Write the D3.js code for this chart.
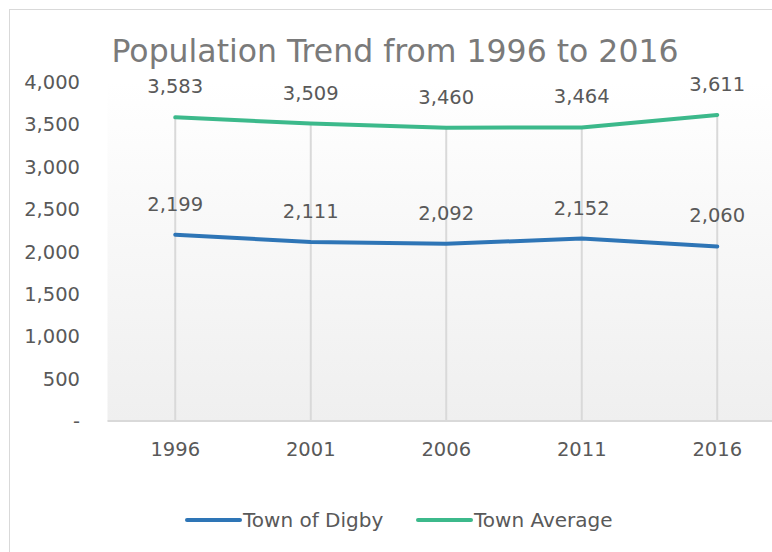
<!DOCTYPE html>
<html>
<head>
<meta charset="utf-8">
<script src="https://cdn.jsdelivr.net/npm/d3@7"></script>
<style>
  body { margin: 0; background: #fff; }
  svg { display: block; font-family: "DejaVu Sans", "Noto Sans", sans-serif; }
</style>
</head>
<body>
<svg id="chart"></svg>
<script>
const years = ['1996', '2001', '2006', '2011', '2016'];
const digby = [2199, 2111, 2092, 2152, 2060];
const townAverage = [3583, 3509, 3460, 3464, 3611];
const yTicks = [0, 500, 1000, 1500, 2000, 2500, 3000, 3500, 4000];

const width = 772;
const height = 552;

const svg = d3.select('#chart')
  .attr('width', width)
  .attr('height', height);

// outer frame
svg.append('rect')
  .attr('x', 9.5).attr('y', 9.5)
  .attr('width', 800).attr('height', 600)
  .attr('fill', 'none')
  .attr('stroke', '#d9d9d9');

const x = d3.scaleBand().domain(years).range([107.5, 785]);
const y = d3.scaleLinear().domain([0, 4000]).range([421, 82]);

// plot background gradient
const grad = svg.append('defs').append('linearGradient')
  .attr('id', 'bg').attr('x1', 0).attr('y1', 0).attr('x2', 0).attr('y2', 1);
grad.append('stop').attr('offset', '0%').attr('stop-color', '#ffffff');
grad.append('stop').attr('offset', '100%').attr('stop-color', '#efefef');

svg.append('rect')
  .attr('x', x.range()[0]).attr('y', y(4000))
  .attr('width', x.range()[1] - x.range()[0])
  .attr('height', y(0) - y(4000))
  .attr('fill', 'url(#bg)');

// title
svg.append('text')
  .attr('x', 395).attr('y', 62)
  .attr('text-anchor', 'middle')
  .attr('font-size', 31.5)
  .attr('fill', '#7a7a7a')
  .text('Population Trend from 1996 to 2016');

// y axis labels
svg.append('g').selectAll('text')
  .data(yTicks)
  .join('text')
  .attr('x', 80)
  .attr('y', d => y(d) + 7)
  .attr('text-anchor', 'end')
  .attr('font-size', 19.5)
  .attr('fill', '#595959')
  .text(d => d === 0 ? '-' : d3.format(',')(d));

// drop lines
svg.append('g').selectAll('line')
  .data(years)
  .join('line')
  .attr('x1', d => x(d) + x.bandwidth() / 2)
  .attr('x2', d => x(d) + x.bandwidth() / 2)
  .attr('y1', (d, i) => y(Math.max(digby[i], townAverage[i])))
  .attr('y2', y(0))
  .attr('stroke', '#d9d9d9')
  .attr('stroke-width', 2);

// x axis line
svg.append('line')
  .attr('x1', x.range()[0]).attr('x2', x.range()[1])
  .attr('y1', y(0)).attr('y2', y(0))
  .attr('stroke', '#d9d9d9')
  .attr('stroke-width', 2);

// x labels
svg.append('g').selectAll('text')
  .data(years)
  .join('text')
  .attr('x', d => x(d) + x.bandwidth() / 2)
  .attr('y', 456)
  .attr('text-anchor', 'middle')
  .attr('font-size', 19.5)
  .attr('fill', '#595959')
  .text(d => d);

const series = [
  { name: 'Town of Digby', values: digby, color: '#2e75b6' },
  { name: 'Town Average', values: townAverage, color: '#3cb98b' }
];

const line = d3.line()
  .x((d, i) => x(years[i]) + x.bandwidth() / 2)
  .y(d => y(d));

series.forEach(s => {
  svg.append('path')
    .datum(s.values)
    .attr('d', line)
    .attr('fill', 'none')
    .attr('stroke', s.color)
    .attr('stroke-width', 4)
    .attr('stroke-linecap', 'round');

  svg.append('g').selectAll('text')
    .data(s.values)
    .join('text')
    .attr('x', (d, i) => x(years[i]) + x.bandwidth() / 2)
    .attr('y', d => y(d) - 24)
    .attr('text-anchor', 'middle')
    .attr('font-size', 19.5)
    .attr('fill', '#595959')
    .text(d => d3.format(',')(d));
});

// legend
const legend = svg.append('g');
const legendX = [187, 418];
series.forEach((s, i) => {
  legend.append('line')
    .attr('x1', legendX[i]).attr('x2', legendX[i] + 53)
    .attr('y1', 520).attr('y2', 520)
    .attr('stroke', s.color)
    .attr('stroke-width', 4)
    .attr('stroke-linecap', 'round');
  legend.append('text')
    .attr('x', legendX[i] + 56)
    .attr('y', 527)
    .attr('font-size', 20)
    .attr('fill', '#595959')
    .text(s.name);
});
</script>
</body>
</html>
